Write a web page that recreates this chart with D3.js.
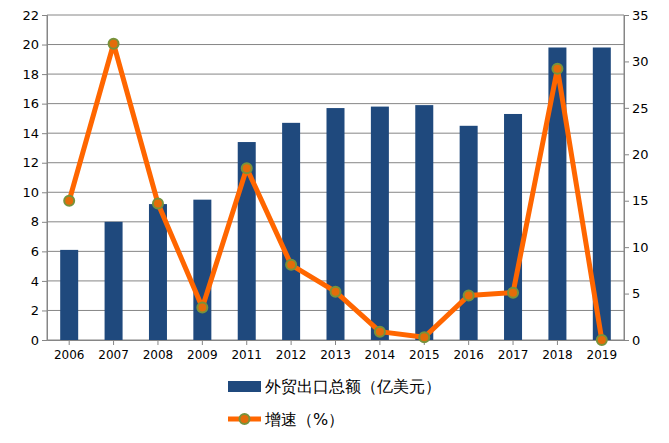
<!DOCTYPE html><html><head><meta charset="utf-8"><script src="https://d3js.org/d3.v7.min.js"></script>
<style>body{margin:0;background:#fff}text{font-family:"DejaVu Sans",sans-serif}</style></head><body><svg id="c" width="669" height="443"></svg>
<script>
const years=["2006","2007","2008","2009","2011","2012","2013","2014","2015","2016","2017","2018","2019"];
const exportVals=[6.1,8.0,9.2,9.5,13.4,14.7,15.7,15.8,15.9,14.5,15.3,19.8,19.8];
const growth=[15.0,31.9,14.7,3.5,18.5,8.1,5.2,0.9,0.3,4.8,5.1,29.2,0.0];
const leftTicks=d3.range(0,23,2), rightTicks=d3.range(0,36,5);
const svg=d3.select("#c");
const L=47,R=624,T=15,B=340;
const x=d3.scaleBand().domain(years).range([L,R]);
const yL=d3.scaleLinear().domain([0,22]).range([B,T]);
const yR=d3.scaleLinear().domain([0,35]).range([B,T]);
svg.append("g").selectAll("line").data(leftTicks).join("line").attr("x1",L).attr("x2",R).attr("y1",d=>yL(d)).attr("y2",d=>yL(d)).attr("stroke","#868686");
svg.append("line").attr("x1",L).attr("x2",L).attr("y1",T).attr("y2",B).attr("stroke","#868686");
svg.append("line").attr("x1",R).attr("x2",R).attr("y1",T).attr("y2",B).attr("stroke","#868686");
const ax=svg.append("g").attr("transform",`translate(0,${B})`).call(d3.axisBottom(x).tickSize(5).tickSizeOuter(0));
ax.selectAll("text").attr("font-size",12).attr("fill","#000").attr("dy","0.9em");
ax.selectAll("line,path").attr("stroke","#868686");
const al=svg.append("g").attr("transform",`translate(${L},0)`).call(d3.axisLeft(yL).tickValues(leftTicks).tickSize(5));
al.selectAll("text").attr("font-size",13).attr("fill","#000");al.selectAll("line,path").attr("stroke","#868686");
const ar=svg.append("g").attr("transform",`translate(${R},0)`).call(d3.axisRight(yR).tickValues(rightTicks).tickSize(5));
ar.selectAll("text").attr("font-size",13).attr("fill","#000");ar.selectAll("line,path").attr("stroke","#868686");
const bw=18;
svg.append("g").selectAll("rect").data(years).join("rect").attr("x",d=>x(d)+x.bandwidth()/2-bw/2).attr("width",bw).attr("y",(d,i)=>yL(exportVals[i])).attr("height",(d,i)=>B-yL(exportVals[i])).attr("fill","#1f497d");
const line=d3.line().x((d,i)=>x(years[i])+x.bandwidth()/2).y(d=>yR(d));
svg.append("path").datum(growth).attr("d",line).attr("fill","none").attr("stroke","#ff6600").attr("stroke-width",5).attr("stroke-linejoin","round");
svg.append("g").selectAll("circle").data(growth).join("circle").attr("cx",(d,i)=>x(years[i])+x.bandwidth()/2).attr("cy",d=>yR(d)).attr("r",5).attr("fill","#e36c0a").attr("stroke","#77933c").attr("stroke-width",2);
svg.append("rect").attr("x",228).attr("y",381).attr("width",33).attr("height",11).attr("fill","#1f497d");
svg.append("text").attr("x",265).attr("y",392).attr("font-size",16).attr("font-family","Noto Sans CJK SC").text("外贸出口总额（亿美元）");
svg.append("line").attr("x1",228).attr("x2",261).attr("y1",419).attr("y2",419).attr("stroke","#ff6600").attr("stroke-width",5);
svg.append("circle").attr("cx",244.5).attr("cy",419).attr("r",5).attr("fill","#e36c0a").attr("stroke","#77933c").attr("stroke-width",2);
svg.append("text").attr("x",265).attr("y",425).attr("font-size",16).attr("font-family","Noto Sans CJK SC").text("增速（%）");
</script></body></html>
